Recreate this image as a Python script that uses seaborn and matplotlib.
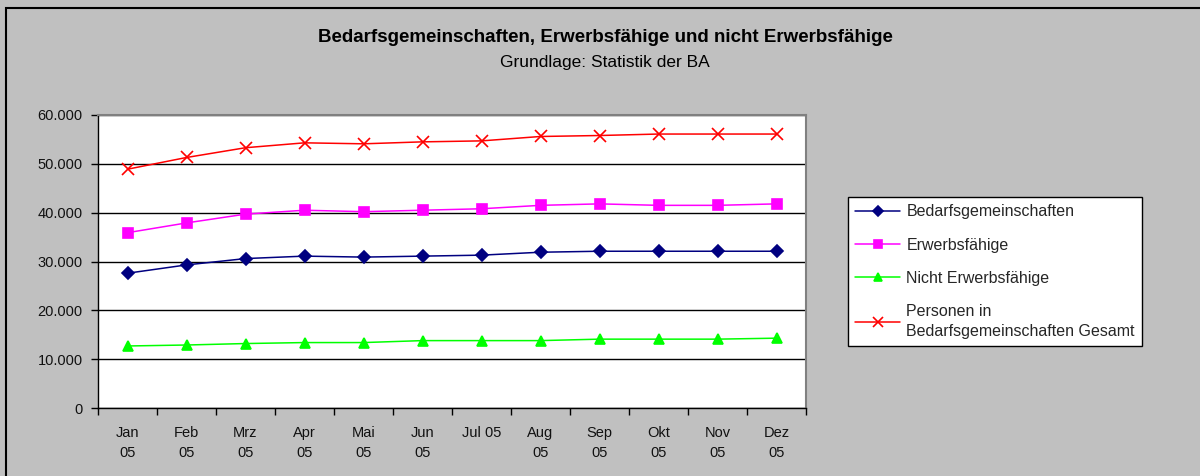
import pandas as pd
import seaborn as sns
import matplotlib.pyplot as plt
import matplotlib.ticker as mticker
from matplotlib.patches import Rectangle

## data
monate = ["Jan\n05", "Feb\n05", "Mrz\n05", "Apr\n05", "Mai\n05", "Jun\n05",
          "Jul 05", "Aug\n05", "Sep\n05", "Okt\n05", "Nov\n05", "Dez\n05"]
bedarfsgemeinschaften = [27600, 29300, 30600, 31100, 30900, 31100,
                         31300, 31900, 32100, 32100, 32100, 32100]
erwerbsfaehige = [35900, 37900, 39700, 40500, 40200, 40500,
                  40800, 41500, 41800, 41500, 41500, 41800]
nicht_erwerbsfaehige = [12700, 12900, 13200, 13400, 13400, 13800,
                        13800, 13800, 14100, 14100, 14100, 14300]
personen_gesamt = [48900, 51300, 53300, 54300, 54100, 54500,
                   54700, 55600, 55800, 56100, 56100, 56100]

serien = ["Bedarfsgemeinschaften", "Erwerbsfähige", "Nicht Erwerbsfähige",
          "Personen in\nBedarfsgemeinschaften Gesamt"]
werte = [bedarfsgemeinschaften, erwerbsfaehige, nicht_erwerbsfaehige, personen_gesamt]
farben = ["#000080", "#ff00ff", "#00ff00", "#ff0000"]
marker = ["D", "s", "^", "x"]

## plot
sns.set_theme(style="white")
plt.rcParams["font.family"] = ["Liberation Sans", "DejaVu Sans"]

fig = plt.figure(figsize=(12, 4.76), dpi=100, facecolor="#c0c0c0")
fig.patches.append(Rectangle((6 / 1200, -0.1), 1.2, (476 - 8) / 476 + 0.1,
                             transform=fig.transFigure, fill=False,
                             edgecolor="black", linewidth=1.5))
ax = fig.add_axes([98 / 1200, 1 - 408 / 476, (806 - 98) / 1200, (408 - 115) / 476])
ax.set_facecolor("white")

for name, y, c, m in zip(serien, werte, farben, marker):
    sns.lineplot(x=list(range(len(monate))), y=y, color=c, marker=m, label=name,
                 linewidth=1.1, markersize={"D": 6.5, "s": 7, "^": 7.5, "x": 9}[m],
                 markeredgewidth=1.2, markeredgecolor=c, ax=ax)

ax.set_ylim(0, 60000)
ax.set_xlim(-0.5, len(monate) - 0.5)
ax.yaxis.set_major_locator(mticker.MultipleLocator(10000))
ax.yaxis.set_major_formatter(mticker.FuncFormatter(lambda v, p: f"{v:,.0f}".replace(",", ".")))
ax.grid(axis="y", color="black", linewidth=1)
ax.set_axisbelow(True)

ax.set_xticks(range(len(monate)))
ax.set_xticklabels(monate, fontsize=10.5, color="#111111", linespacing=1.5)
ax.set_xticks([i - 0.5 for i in range(len(monate) + 1)], minor=True)
ax.tick_params(axis="x", which="major", length=0, pad=13)
ax.tick_params(axis="x", which="minor", length=5, width=1, color="black", direction="out", bottom=True)
ax.tick_params(axis="y", length=5, width=1, color="black", direction="out",
               labelsize=10.5, labelcolor="#111111", pad=6, left=True)

for side in ["left", "bottom"]:
    ax.spines[side].set_color("black")
    ax.spines[side].set_linewidth(1)
for side in ["top", "right"]:
    ax.spines[side].set_color("#808080")
    ax.spines[side].set_linewidth(1.5)

handles, labels = ax.get_legend_handles_labels()
ax.legend_.remove()
leg = fig.legend(handles, labels, loc="upper left",
                 bbox_to_anchor=(848 / 1200, 1 - 197 / 476), borderaxespad=0,
                 frameon=True, fancybox=False, edgecolor="black", facecolor="white",
                 framealpha=1, fontsize=11.5, handlelength=2.8, labelspacing=1.15,
                 borderpad=0.45, handletextpad=0.4, markerscale=0.75)
leg.get_frame().set_linewidth(1)
leg.get_texts()[3].set_linespacing(1.4)

fig.text(605 / 1200, 1 - 37 / 476, "Bedarfsgemeinschaften, Erwerbsfähige und nicht Erwerbsfähige",
         ha="center", va="center", fontsize=13.5, fontweight="bold", color="black")
fig.text(605 / 1200, 1 - 62 / 476, "Grundlage: Statistik der BA",
         ha="center", va="center", fontsize=12.5, color="black")

plt.savefig("out.png", dpi=100, facecolor=fig.get_facecolor())
